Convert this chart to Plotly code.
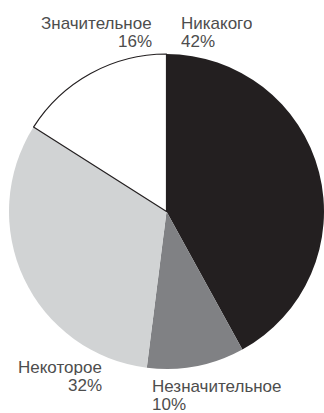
import plotly.graph_objects as go

# Survey answer categories and their shares (percent)
categories = ["Никакого", "Незначительное", "Некоторое", "Значительное"]
shares = [42, 10, 32, 16]
slice_colors = ["#231f20", "#808184", "#d1d3d4", "#ffffff"]

W, H = 324, 413
cx, cy, r = 166.5, 211.5, 157.5  # pie centre / radius in pixels

fig = go.Figure()
fig.add_trace(go.Pie(
    labels=categories,
    values=shares,
    sort=False,
    direction="clockwise",
    rotation=0,
    textinfo="none",
    hoverinfo="label+percent",
    marker=dict(
        colors=slice_colors,
        line=dict(color=["#231f20", "#808184", "#d1d3d4", "#231f20"],
                  width=[0, 0, 0, 1.2]),
    ),
    domain=dict(x=[(cx - r) / W, (cx + r) / W],
                y=[1 - (cy + r) / H, 1 - (cy - r) / H]),
    showlegend=False,
))

# Label placement: x (px), top of name line, top of percent line, alignment
label_pos = {
    "Никакого": (180, 13.5, 32, "left"),
    "Незначительное": (151, 377, 394.5, "left"),
    "Некоторое": (103, 357.5, 376, "right"),
    "Значительное": (153, 13.5, 32, "right"),
}
label_font = dict(family="Liberation Sans Narrow, Arial Narrow, Arial, sans-serif",
                  size=17, color="#4d4d4d")
for name, val in zip(categories, shares):
    x, y1, y2, align = label_pos[name]
    for text, y in ((name, y1), (f"{val}%", y2)):
        fig.add_annotation(
            x=x / W, y=1 - y / H, xref="paper", yref="paper",
            xanchor=align, yanchor="top", align=align, valign="middle",
            height=16, borderpad=0,
            text=text, showarrow=False, font=label_font,
        )

fig.update_layout(
    width=W, height=H,
    margin=dict(l=0, r=0, t=0, b=0),
    paper_bgcolor="white", plot_bgcolor="white",
)
fig.write_html("out.html")
